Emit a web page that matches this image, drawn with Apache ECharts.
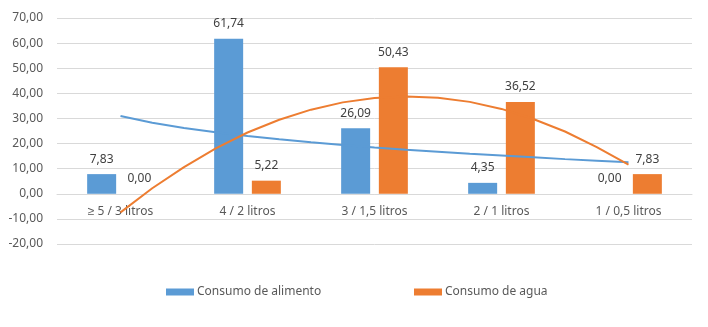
<!DOCTYPE html>
<html>
<head>
    <meta charset="utf-8">
    <title>Consumo de alimento y agua</title>
    <script src="https://cdn.jsdelivr.net/npm/echarts@6/dist/echarts.min.js"></script>
    <style>
        body { margin: 0; background: #fff; }
        #main { width: 708px; height: 327px; }
    </style>
</head>
<body>
<div id="main"></div>
<script type="text/javascript">
    // categorias del eje x
    var categorias = ['≥ 5 / 3 litros', '4 / 2 litros', '3 / 1,5 litros', '2 / 1 litros', '1 / 0,5 litros'];
    var alimento = [7.83, 61.74, 26.09, 4.35, 0.00];
    var agua = [0.00, 5.22, 50.43, 36.52, 7.83];
    // lineas de tendencia, cada cuarto de categoria (1 = primera)
    var posTend = [1, 1.25, 1.5, 1.75, 2, 2.25, 2.5, 2.75, 3, 3.25, 3.5, 3.75, 4, 4.25, 4.5, 4.75, 5];
    var tendAlimento = [31.0, 28.3, 26.2, 24.5, 23.0, 21.7, 20.5, 19.4, 18.4, 17.5, 16.7, 15.9, 15.2, 14.5, 13.8, 13.2, 12.6];
    var tendAgua = [-7.4, 2.2, 10.6, 18.1, 24.4, 29.5, 33.5, 36.4, 38.1, 38.7, 38.2, 36.6, 33.8, 29.8, 24.8, 18.6, 11.6];
    var yTicks = [-20, 70, 10]; // min, max, intervalo

    function fmt(v) {
        return Number(v).toFixed(2).replace('.', ',');
    }
    function pares(xs, ys) {
        return xs.map(function (x, i) { return [x, ys[i]]; });
    }

    var azul = '#5b9bd5', naranja = '#ed7d31';
    var fuente = '"Noto Sans", sans-serif';
    var leyendaBase = {
        top: 286, padding: 0,
        icon: 'rect', itemWidth: 28, itemHeight: 7, itemGap: 4,
        textStyle: { fontSize: 12, color: '#595959', padding: [0, 0, 0, -2] }
    };

    var myChart = echarts.init(document.getElementById('main'));
    var option = {
        animation: false,
        textStyle: { fontFamily: fuente },
        grid: { left: 57, right: 16, top: 18, bottom: 83 },
        legend: [
            Object.assign({ data: ['Consumo de alimento'], left: 166 }, leyendaBase),
            Object.assign({ data: ['Consumo de agua'], left: 414 }, leyendaBase)
        ],
        xAxis: [
            {
                type: 'category',
                data: categorias,
                offset: -50,
                axisLine: { onZero: false, lineStyle: { color: '#d9d9d9' } },
                axisTick: { show: false },
                axisLabel: { color: '#595959', fontSize: 12, margin: 12 }
            },
            {
                // eje oculto para las lineas de tendencia
                type: 'value',
                min: 0.5,
                max: 5.5,
                show: false
            }
        ],
        yAxis: {
            type: 'value',
            min: yTicks[0],
            max: yTicks[1],
            interval: yTicks[2],
            axisLine: { show: false },
            axisTick: { show: false },
            axisLabel: { color: '#595959', fontSize: 12, margin: 14, formatter: fmt },
            splitLine: { lineStyle: { color: '#d9d9d9' } }
        },
        series: [
            {
                name: 'Consumo de alimento',
                type: 'bar',
                data: alimento,
                barWidth: 29,
                barGap: '30%',
                itemStyle: { color: azul },
                label: { show: true, position: 'top', distance: 9, color: '#404040', fontSize: 12, formatter: function (p) { return fmt(p.value); } }
            },
            {
                name: 'Consumo de agua',
                type: 'bar',
                data: agua,
                barWidth: 29,
                barGap: '30%',
                itemStyle: { color: naranja },
                label: { show: true, position: 'top', distance: 9, color: '#404040', fontSize: 12, formatter: function (p) { return fmt(p.value); } }
            },
            {
                name: 'tendencia alimento',
                type: 'line',
                xAxisIndex: 1,
                data: pares(posTend, tendAlimento),
                symbol: 'none',
                lineStyle: { color: azul, width: 2 },
                z: 3
            },
            {
                name: 'tendencia agua',
                type: 'line',
                xAxisIndex: 1,
                data: pares(posTend, tendAgua),
                symbol: 'none',
                lineStyle: { color: naranja, width: 2 },
                z: 3
            }
        ]
    };
    myChart.setOption(option);
</script>
</body>
</html>
